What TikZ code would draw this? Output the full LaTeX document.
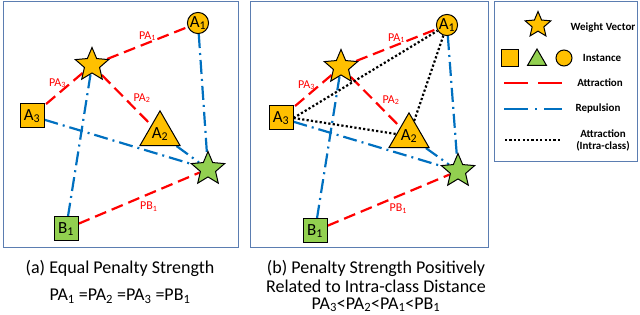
\documentclass[tikz,border=0pt]{standalone}
\usepackage{fontspec}
\setmainfont{Carlito}
\usepackage{tikz}
\usetikzlibrary{positioning, shapes.geometric, backgrounds}

\definecolor{gold}{HTML}{FFC000}
\definecolor{leaf}{HTML}{92D050}
\definecolor{attrred}{HTML}{FF0000}
\definecolor{repblue}{HTML}{0070C0}
\definecolor{framecol}{HTML}{5B7DB1}

\begin{document}
\begin{tikzpicture}[
    x=1pt, y=-1pt,
    every node/.style={font=\fontsize{17}{18}\selectfont},
    wvec/.style={star, star points=5, star point ratio=2.2, draw, line width=1pt, minimum size=35pt, inner sep=0pt, fill=#1},
    wvec/.default=gold,
    sq/.style={rectangle, draw, line width=1pt, minimum size=24pt, inner sep=0pt, fill=#1},
    sq/.default=gold,
    tri/.style={regular polygon, regular polygon sides=3, draw, line width=1pt, minimum size=32pt, inner sep=0pt, fill=#1},
    tri/.default=gold,
    circ/.style={circle, draw, line width=1pt, minimum size=21pt, inner sep=0pt, fill=#1},
    circ/.default=gold,
    attrline/.style={draw=attrred, line width=2.2pt, dash pattern=on 12pt off 6pt},
    repline/.style={draw=repblue, line width=2.2pt, dash pattern=on 14pt off 5pt on 2pt off 5pt},
    intraline/.style={draw=black, line width=2.2pt, dash pattern=on 2.2pt off 2.2pt},
    lbl/.style={text=attrred, inner sep=1pt, font=\fontsize{12}{12}\selectfont},
    legtxt/.style={font=\bfseries\fontsize{11}{12}\selectfont, align=center},
    captxt/.style={font=\fontsize{18}{19.5}\selectfont, align=center},
    frame/.style={draw=framecol, line width=1pt},
]
    \useasboundingbox (0,0) rectangle (640,315);

    % frames
    \draw[frame] (3,2) rectangle (238,248);
    \draw[frame] (250,2) rectangle (488,248);
    \draw[frame] (494,2) rectangle (637,162);

    % panel (a)
    \node[circ] (a1) at (198,23) {A\textsubscript{1}};
    \node[wvec] (aw) at (92,65) {};
    \node[sq] (a3) at (32,116) {A\textsubscript{3}};
    \node[tri] (a2) at (160,134) {A\textsubscript{2}};
    \node[wvec=leaf] (ag) at (208,169) {};
    \node[sq=leaf] (ab) at (66,229) {B\textsubscript{1}};

    \begin{scope}[on background layer]
        \draw[repline] (a1) -- (ag);
        \draw[repline] (a3) -- (ag);
        \draw[repline] (a2) -- (ag);
        \draw[repline] (aw) -- (ab);
        \draw[attrline] (aw) -- node[lbl, above, pos=0.5] {PA\textsubscript{1}} (a1);
        \draw[attrline] (aw) -- node[lbl, pos=0.5, xshift=-6pt, yshift=6pt] {PA\textsubscript{3}} (a3);
        \draw[attrline] (aw) -- node[lbl, above right, pos=0.6] {PA\textsubscript{2}} (a2);
        \draw[attrline] (ab) -- node[lbl, below, pos=0.58, yshift=-6pt] {PB\textsubscript{1}} (ag);
    \end{scope}

    % panel (b)
    \node[circ] (b1) at (447,25) {A\textsubscript{1}};
    \node[wvec] (bw) at (341,67) {};
    \node[sq] (b3) at (281,118) {A\textsubscript{3}};
    \node[tri] (b2) at (409,136) {A\textsubscript{2}};
    \node[wvec=leaf] (bg) at (458,171) {};
    \node[sq=leaf] (bb) at (315,231) {B\textsubscript{1}};

    \begin{scope}[on background layer]
        \draw[repline] (b1) -- (bg);
        \draw[repline] (b3) -- (bg);
        \draw[repline] (b2) -- (bg);
        \draw[repline] (bw) -- (bb);
        \draw[attrline] (bw) -- node[lbl, above, pos=0.5] {PA\textsubscript{1}} (b1);
        \draw[attrline] (bw) -- node[lbl, pos=0.5, xshift=-6pt, yshift=6pt] {PA\textsubscript{3}} (b3);
        \draw[attrline] (bw) -- node[lbl, above right, pos=0.6] {PA\textsubscript{2}} (b2);
        \draw[attrline] (bb) -- node[lbl, below, pos=0.58, yshift=-6pt] {PB\textsubscript{1}} (bg);
        \draw[intraline] (b3.east) -- (b1);
        \draw[intraline] (b3.east) -- (b2);
        \draw[intraline] (b2) -- (b1);
    \end{scope}

    % legend
    \node[wvec, minimum size=27pt] (lw) at (538,25) {};
    \node[legtxt] (lwt) at (603,28) {Weight Vector};
    \node[sq, minimum size=17pt] (lsq) at (510,58) {};
    \node[tri, minimum size=22pt, fill=leaf] (ltri) at (537,60) {};
    \node[circ, minimum size=16pt] (lcirc) at (564,58) {};
    \node[legtxt] (lit) at (602,58) {Instance};
    \coordinate (la0) at (504,83);
    \coordinate (la1) at (562,83);
    \draw[attrline, dash pattern=on 24pt off 10pt] (la0) -- (la1);
    \node[legtxt] (lat) at (600,83) {Attraction};
    \coordinate (lr0) at (504,109);
    \coordinate (lr1) at (562,109);
    \draw[repline, dash pattern=on 24pt off 7pt on 2pt off 7pt] (lr0) -- (lr1);
    \node[legtxt] (lrt) at (598,109) {Repulsion};
    \coordinate (li0) at (505,140);
    \coordinate (li1) at (562,140);
    \draw[intraline] (li0) -- (li1);
    \node[legtxt] (lit2) at (603,140) {Attraction\\(Intra-class)};

    % captions
    \node[captxt] (capa) at (120,268) {(a) Equal Penalty Strength};
    \node[captxt] (capaf) at (120,296) {PA\textsubscript{1} =PA\textsubscript{2} =PA\textsubscript{3} =PB\textsubscript{1}};
    \node[captxt] (capb) at (376,286) {(b) Penalty Strength Positively\\Related to Intra-class Distance\\[-3pt]PA\textsubscript{3}<PA\textsubscript{2}<PA\textsubscript{1}<PB\textsubscript{1}};
\end{tikzpicture}
\end{document}
